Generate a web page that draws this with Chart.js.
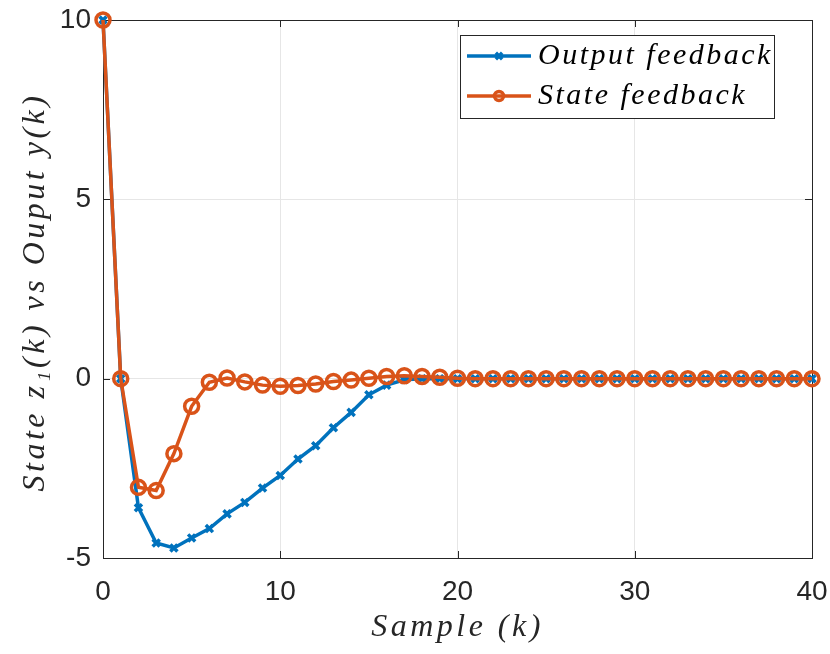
<!DOCTYPE html>
<html>
<head>
<meta charset="utf-8">
<script src="https://cdn.jsdelivr.net/npm/chart.js@4.4.1/dist/chart.umd.min.js"></script>
<style>
  html, body { margin: 0; padding: 0; background: #fff; }
  canvas { display: block; }
</style>
</head>
<body>
<canvas id="chart" width="830" height="654"></canvas>
<script>
// sample index k
const samples = [0, 1, 2, 3, 4, 5, 6, 7, 8, 9, 10, 11, 12, 13, 14, 15, 16, 17, 18, 19, 20,
  21, 22, 23, 24, 25, 26, 27, 28, 29, 30, 31, 32, 33, 34, 35, 36, 37, 38, 39, 40];

const outputFeedback = [10, 0, -3.6, -4.58, -4.72, -4.44, -4.18, -3.77, -3.45, -3.05, -2.70,
  -2.24, -1.87, -1.37, -0.94, -0.45, -0.18, -0.03, 0, 0, 0,
  0, 0, 0, 0, 0, 0, 0, 0, 0, 0, 0, 0, 0, 0, 0, 0, 0, 0, 0, 0];

const stateFeedback = [10, 0, -3.03, -3.12, -2.09, -0.77, -0.10, 0.02, -0.09, -0.18, -0.21,
  -0.19, -0.15, -0.08, -0.04, 0.01, 0.06, 0.08, 0.06, 0.04, 0.01,
  0, 0, 0, 0, 0, 0, 0, 0, 0, 0, 0, 0, 0, 0, 0, 0, 0, 0, 0, 0];

const xTicks = [0, 10, 20, 30, 40];
const yTicks = [-5, 0, 5, 10];

const seriesNames = ['Output feedback', 'State feedback'];
const xTitle = 'Sample (k)';
const yTitle = 'State z\u2081(k) vs Ouput y(k)';

const BLUE = '#0072BD';
const ORANGE = '#D95319';
const AXIS = '#262626';
const tickFont = { family: "'Liberation Sans', Arial, sans-serif", size: 28 };

// box, inward ticks and axis titles, MATLAB style
const boxPlugin = {
  id: 'box',
  beforeDatasetsDraw(chart) {
    const { ctx, chartArea: a, scales } = chart;
    ctx.save();
    ctx.strokeStyle = AXIS;
    ctx.lineWidth = 1;
    ctx.strokeRect(a.left + 0.5, a.top + 0.5, a.right - a.left, a.bottom - a.top);
    ctx.beginPath();
    xTicks.forEach(v => {
      const x = Math.round(scales.x.getPixelForValue(v)) + 0.5;
      ctx.moveTo(x, a.bottom); ctx.lineTo(x, a.bottom - 7);
      ctx.moveTo(x, a.top); ctx.lineTo(x, a.top + 7);
    });
    yTicks.forEach(v => {
      const y = Math.round(scales.y.getPixelForValue(v)) + 0.5;
      ctx.moveTo(a.left, y); ctx.lineTo(a.left + 7, y);
      ctx.moveTo(a.right, y); ctx.lineTo(a.right - 7, y);
    });
    ctx.stroke();
    ctx.restore();
  },
  afterDraw(chart) {
    const { ctx, chartArea: a } = chart;
    ctx.save();
    ctx.fillStyle = AXIS;
    ctx.font = "italic 32px 'Liberation Serif', 'DejaVu Serif', serif";
    ctx.letterSpacing = '3.5px';
    ctx.textAlign = 'center';
    ctx.textBaseline = 'middle';
    ctx.fillText(xTitle, (a.left + a.right) / 2, 628);
    ctx.translate(36, 292);
    ctx.rotate(-Math.PI / 2);
    ctx.fillText(yTitle, 0, 0);
    ctx.restore();
  }
};

// legend box in the upper right of the axes
const legendPlugin = {
  id: 'boxLegend',
  afterDatasetsDraw(chart) {
    const { ctx } = chart;
    const bx = 460, by = 35, bw = 314, bh = 83;
    ctx.save();
    ctx.fillStyle = '#fff';
    ctx.fillRect(bx, by, bw, bh);
    ctx.strokeStyle = AXIS;
    ctx.lineWidth = 1;
    ctx.strokeRect(bx + 0.5, by + 0.5, bw, bh);
    chart.data.datasets.forEach((ds, i) => {
      const y = by + 21 + i * 40;
      ctx.strokeStyle = ds.borderColor;
      ctx.lineWidth = ds.borderWidth;
      ctx.beginPath();
      ctx.moveTo(467, y); ctx.lineTo(531, y);
      ctx.stroke();
      ctx.fillStyle = 'rgba(0,0,0,0)';
      Chart.helpers.drawPoint(ctx, {
        pointStyle: ds.pointStyle,
        radius: 4.5,
        rotation: 0,
        borderWidth: ds.pointBorderWidth
      }, 499, y);
      ctx.fillStyle = '#000';
      ctx.font = "italic 30px 'Liberation Serif', 'DejaVu Serif', serif";
      ctx.letterSpacing = '2.5px';
      ctx.textAlign = 'left';
      ctx.textBaseline = 'middle';
      ctx.fillText(ds.label, 538, y);
    });
    ctx.restore();
  }
};

new Chart(document.getElementById('chart'), {
  type: 'line',
  data: {
    labels: samples,
    datasets: [
      {
        label: seriesNames[0],
        data: outputFeedback,
        borderColor: BLUE,
        backgroundColor: BLUE,
        borderWidth: 3.5,
        pointStyle: 'crossRot',
        pointRadius: 5,
        pointBorderWidth: 3.5,
        pointBorderColor: BLUE,
        order: 2,
        clip: false,
        tension: 0
      },
      {
        label: seriesNames[1],
        data: stateFeedback,
        borderColor: ORANGE,
        backgroundColor: 'rgba(0,0,0,0)',
        borderWidth: 3.5,
        pointStyle: 'circle',
        pointRadius: 7,
        pointBorderWidth: 3.5,
        pointBorderColor: ORANGE,
        pointBackgroundColor: 'rgba(0,0,0,0)',
        order: 1,
        clip: false,
        tension: 0
      }
    ]
  },
  options: {
    responsive: false,
    animation: false,
    events: [],
    layout: { padding: { left: 0, right: 18, top: 20, bottom: 0 } },
    plugins: { legend: { display: false }, tooltip: { enabled: false } },
    scales: {
      x: {
        type: 'linear',
        min: 0,
        max: 40,
        afterFit(scale) {
          scale.height = 96;
          scale.paddingLeft = 0;
          scale.paddingRight = 0;
        },
        afterBuildTicks(scale) { scale.ticks = xTicks.map(v => ({ value: v })); },
        grid: { color: '#e6e6e6', drawTicks: false },
        border: { display: false },
        ticks: { padding: 17, color: AXIS, font: tickFont }
      },
      y: {
        min: -5,
        max: 10,
        afterFit(scale) {
          scale.width = 103;
          scale.paddingTop = 0;
          scale.paddingBottom = 0;
        },
        afterBuildTicks(scale) { scale.ticks = yTicks.map(v => ({ value: v })); },
        grid: { color: '#e6e6e6', drawTicks: false },
        border: { display: false },
        ticks: { padding: 12, color: AXIS, font: tickFont }
      }
    }
  },
  plugins: [boxPlugin, legendPlugin]
});
</script>
</body>
</html>
